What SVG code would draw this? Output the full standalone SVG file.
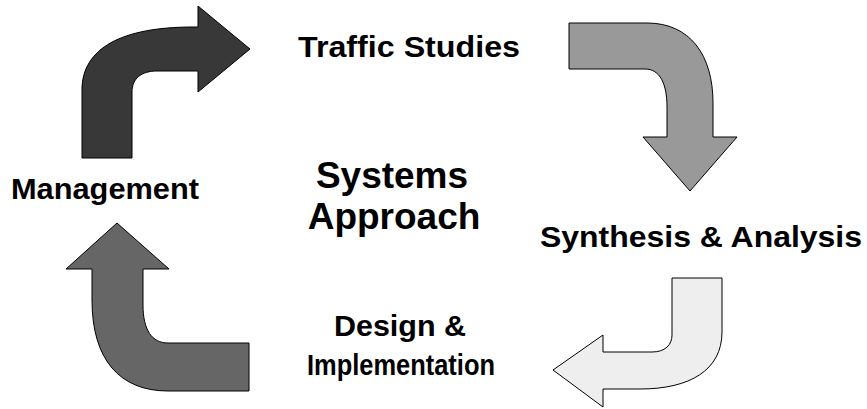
<svg xmlns="http://www.w3.org/2000/svg" width="867" height="409" viewBox="0 0 867 409">
<style>
.arrow{stroke:#000;stroke-width:1;stroke-linejoin:miter}
.lbl{font-family:"Liberation Sans",Arial,sans-serif;font-weight:bold;font-size:30px;fill:#000}
.title{font-family:"Liberation Sans",Arial,sans-serif;font-weight:bold;font-size:37px;fill:#000;text-anchor:middle}
</style>
<rect width="867" height="409" fill="#fff"/>
<g id="connectors">
<path id="arrow-management-traffic" class="arrow" fill="#383838" d="M82,158 L82,90 C82,48 122,27 193,27 L198,27 L198,6 L250,49 L198,92 L198,71 L157,71 C142,71 132,78 132,92 L132,158 Z"/>
<path id="arrow-traffic-synthesis" class="arrow" fill="#999999" d="M569,23 L647,23 C690,23 713,55 713,103 L713,137 L737,137 L690,191 L643,137 L667,137 L667,107 C667,84 660,69 645,69 L569,69 Z"/>
<path id="arrow-synthesis-design" class="arrow" fill="#eeeeee" d="M672,278 L722,278 L722,332 C722,370 690,389 640,389 L603,389 L603,407 L553,370 L603,335 L603,352 L652,352 C665,352 672,345 672,335 Z"/>
<path id="arrow-design-management" class="arrow" fill="#666666" d="M117,223 L169,269 L143,269 L143,305 C143,330 152,343 168,343 L249,343 L249,391 L168,391 C120,391 92,360 92,300 L92,269 L66,269 Z"/>
</g>
<g id="node-traffic"><text class="lbl" x="298" y="57" textLength="222" lengthAdjust="spacingAndGlyphs">Traffic Studies</text></g>
<g id="node-title"><text class="title" x="392" y="188">Systems</text><text class="title" x="394" y="229">Approach</text></g>
<g id="node-management"><text class="lbl" x="11" y="199" textLength="188" lengthAdjust="spacingAndGlyphs">Management</text></g>
<g id="node-synthesis"><text class="lbl" x="540" y="247" textLength="322" lengthAdjust="spacingAndGlyphs">Synthesis &amp; Analysis</text></g>
<g id="node-design"><text class="lbl" x="334" y="336" textLength="132" lengthAdjust="spacingAndGlyphs">Design &amp;</text><text class="lbl" x="307" y="375" textLength="188" lengthAdjust="spacingAndGlyphs">Implementation</text></g>
</svg>
